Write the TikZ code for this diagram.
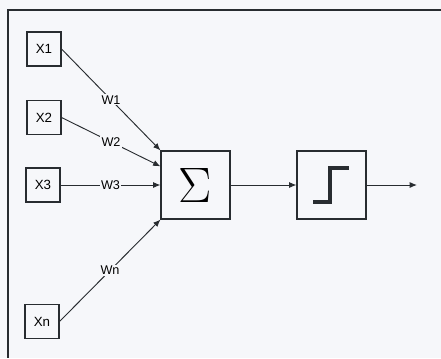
\documentclass[tikz,border=0pt]{standalone}
\usepackage{fontspec}
\setmainfont{Liberation Sans}
\usetikzlibrary{arrows.meta}
\definecolor{paper}{RGB}{246,247,250}
\definecolor{ink}{RGB}{40,44,48}
\tikzset{
  inbox/.style={draw=ink,line width=0.8pt,minimum size=25.5pt,inner sep=0pt,font=\fontsize{10}{12}\selectfont},
  opbox/.style={draw=ink,line width=0.8pt,minimum width=51.75pt,minimum height=51pt,inner sep=0pt},
  wlabel/.style={fill=paper,inner sep=1pt,font=\fontsize{9.5}{11}\selectfont},
  conn/.style={draw=ink,line width=0.7pt,-{Latex[length=5.5pt,width=4.5pt]}}
}
\begin{document}
\begin{tikzpicture}[x=0.75pt,y=-0.75pt]
\useasboundingbox[fill=paper] (0,0) rectangle (441,358);
\draw[ink,line width=1.5pt] (441,10) -- (8,10) -- (8,358);

\node[inbox] (x1) at (44,49) {X1};
\node[inbox] (x2) at (44,117.5) {X2};
\node[inbox] (x3) at (43,185) {X3};
\node[inbox] (xn) at (42,321.5) {Xn};

\node[opbox] (sum) at (195.5,185) {\scalebox{1.5}{\fontsize{24.88}{25}\selectfont$\Sigma$}};
\node[opbox] (act) at (331.5,185) {};
\coordinate (out) at (417,185);

% step function
\draw[ink,line width=2.6pt] (313,202) -- (330,202) -- (330,168) -- (349,168);

\draw[conn] (x1.east) -- node[wlabel] {W1} (sum.north west);
\draw[conn] (x2.east) -- node[wlabel] {W2} (sum.152);
\draw[conn] (x3.east) -- node[wlabel] {W3} (sum.west);
\draw[conn] (xn.east) -- node[wlabel] {Wn} (sum.south west);

\draw[conn] (sum) -- (act);
\draw[conn] (act) -- (out);
\end{tikzpicture}
\end{document}
